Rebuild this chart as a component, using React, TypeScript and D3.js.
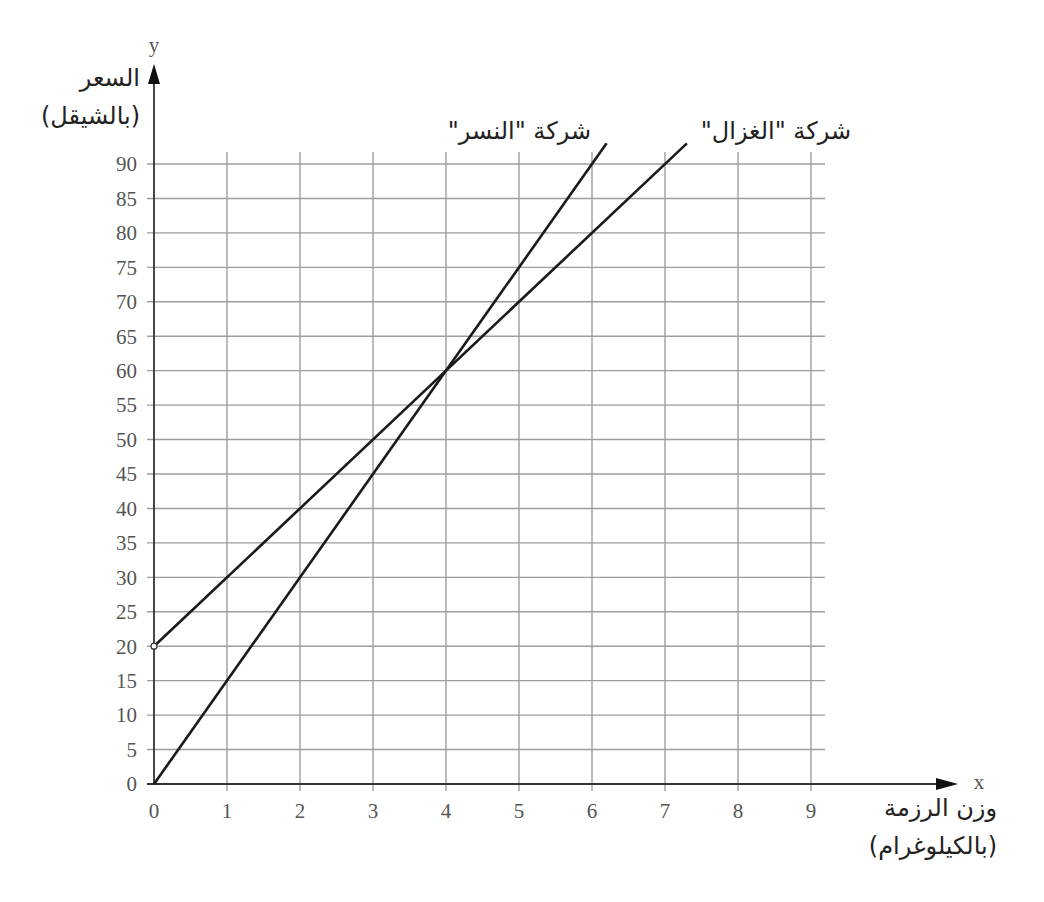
import React from "react";
import { scaleLinear, line } from "d3";

// قيم الرسم
const xTicks = [0, 1, 2, 3, 4, 5, 6, 7, 8, 9];
const yTicks = [0, 5, 10, 15, 20, 25, 30, 35, 40, 45, 50, 55, 60, 65, 70, 75, 80, 85, 90];

// نقاط بداية ونهاية كل خط (x بالكيلوغرام، y بالشيقل)
const nesrPoints = [
  { x: 0, y: 0 },
  { x: 6.2, y: 93 },
];
const ghazalPoints = [
  { x: 0, y: 20 },
  { x: 7.3, y: 93 },
];

const nesrLabel = 'شركة "النسر"';
const ghazalLabel = 'شركة "الغزال"';
const yLabel = ["السعر", "(بالشيقل)"];
const xLabel = ["وزن الرزمة", "(بالكيلوغرام)"];

export default function App() {
  const width = 1044;
  const height = 902;

  const x = scaleLinear().domain([0, 9]).range([154, 811]);
  const y = scaleLinear().domain([0, 90]).range([784, 164]);

  const path = line<{ x: number; y: number }>()
    .x((d) => x(d.x))
    .y((d) => y(d.y));

  const gridColor = "#9d9d9d";
  const tickColor = "#555";
  const serif = "'Liberation Serif', 'DejaVu Serif', serif";
  const arabic = "'DejaVu Sans', sans-serif";

  const gridRight = x(9) + 14;
  const gridTop = y(90) - 12;

  return (
    <div style={{ position: "absolute", left: 0, top: 0 }}>
      <svg width={width} height={height} style={{ display: "block", background: "#fff" }}>
        {/* خطوط الشبكة الأفقية */}
        {yTicks
          .filter((t) => t > 0)
          .map((t) => (
            <line
              key={`h-${t}`}
              x1={x(0) - 7}
              x2={gridRight}
              y1={y(t)}
              y2={y(t)}
              stroke={gridColor}
              strokeWidth={1.4}
            />
          ))}
        {/* خطوط الشبكة العمودية */}
        {xTicks
          .filter((t) => t > 0)
          .map((t) => (
            <line
              key={`v-${t}`}
              x1={x(t)}
              x2={x(t)}
              y1={gridTop}
              y2={y(0) + 7}
              stroke={gridColor}
              strokeWidth={1.4}
            />
          ))}

        {/* المحور x */}
        <line x1={x(0) - 7} x2={940} y1={y(0)} y2={y(0)} stroke="#333" strokeWidth={1.8} />
        <path d={`M958,${y(0)} L936,${y(0) - 6} L936,${y(0) + 6} Z`} fill="#111" />
        <text x={979} y={y(0) + 5} fontFamily={serif} fontSize={21} fill={tickColor} textAnchor="middle">
          x
        </text>

        {/* المحور y */}
        <line x1={x(0)} x2={x(0)} y1={y(0)} y2={82} stroke="#333" strokeWidth={1.8} />
        <path d={`M${x(0)},64 L${x(0) - 6},84 L${x(0) + 6},84 Z`} fill="#111" />
        <text x={x(0)} y={52} fontFamily={serif} fontSize={21} fill={tickColor} textAnchor="middle">
          y
        </text>

        {/* تسميات المحور y */}
        {yTicks.map((t) => (
          <text
            key={`yt-${t}`}
            x={137}
            y={y(t)}
            dy="0.35em"
            textAnchor="end"
            fontFamily={serif}
            fontSize={21}
            fill={tickColor}
          >
            {t}
          </text>
        ))}
        {/* تسميات المحور x */}
        {xTicks.map((t) => (
          <text
            key={`xt-${t}`}
            x={x(t)}
            y={y(0) + 27}
            dy="0.35em"
            textAnchor="middle"
            fontFamily={serif}
            fontSize={21}
            fill={tickColor}
          >
            {t}
          </text>
        ))}

        {/* الخطوط */}
        <path d={path(nesrPoints) ?? ""} fill="none" stroke="#1a1a1a" strokeWidth={2.6} />
        <path d={path(ghazalPoints) ?? ""} fill="none" stroke="#1a1a1a" strokeWidth={2.6} />
        <circle cx={x(ghazalPoints[0].x)} cy={y(ghazalPoints[0].y)} r={3} fill="#fff" stroke="#333" strokeWidth={1.2} />

        {/* أسماء الشركات */}
        <text x={591} y={139} direction="rtl" textAnchor="start" fontFamily={arabic} fontSize={24} fill="#222">
          {nesrLabel}
        </text>
        <text x={851} y={139} direction="rtl" textAnchor="start" fontFamily={arabic} fontSize={24} fill="#222">
          {ghazalLabel}
        </text>

        {/* عنوان المحور y */}
        {yLabel.map((s, i) => (
          <text
            key={`yl-${i}`}
            x={140}
            y={86 + i * 38}
            direction="rtl"
            textAnchor="start"
            fontFamily={arabic}
            fontSize={24}
            fill="#222"
          >
            {s}
          </text>
        ))}
        {/* عنوان المحور x */}
        {xLabel.map((s, i) => (
          <text
            key={`xl-${i}`}
            x={997}
            y={816 + i * 38}
            direction="rtl"
            textAnchor="start"
            fontFamily={arabic}
            fontSize={24}
            fill="#222"
          >
            {s}
          </text>
        ))}
      </svg>
    </div>
  );
}
